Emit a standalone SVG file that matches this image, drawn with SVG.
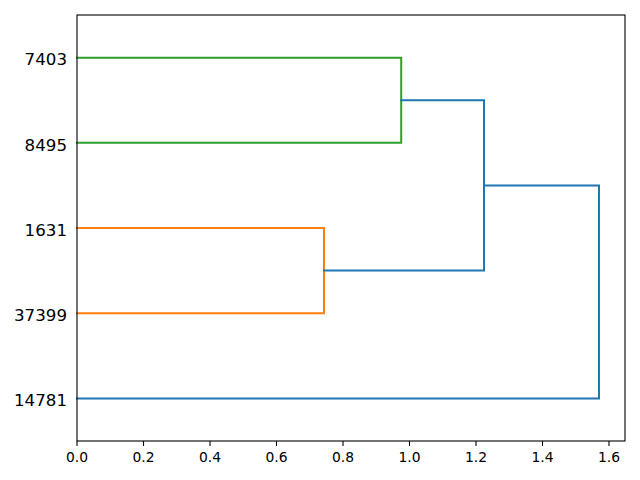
<svg xmlns="http://www.w3.org/2000/svg" width="640" height="480" viewBox="0 0 640 480">
<style>
.lnk{fill:none;stroke-width:2;stroke-linecap:square;stroke-linejoin:miter}
.b{stroke:#1f77b4}.o{stroke:#ff7f0e}.g{stroke:#2ca02c}
.spine{fill:none;stroke:#000;stroke-width:1.1}
.tick{stroke:#000;stroke-width:1.1}
.yl{font-family:'DejaVu Sans',sans-serif;font-size:16.67px;text-anchor:end;fill:#000}
.xl{font-family:'DejaVu Sans',sans-serif;font-size:13.89px;text-anchor:middle;fill:#000}
</style>
<rect width="640" height="480" fill="#fff"/>
<g id="connectors">
<path class="lnk g" d="M77,57.7 H401.2 V142.8 H77"/>
<path class="lnk o" d="M77,228 H324 V313.2 H77"/>
<path class="lnk b" d="M401.2,100.3 H484 V270.6 H324"/>
<path class="lnk b" d="M484,185.4 H599 V398.4 H77"/>
</g>
<g id="leaf-7403"><text class="yl" x="67" y="65.4">7403</text></g>
<g id="leaf-8495"><text class="yl" x="67" y="150.5">8495</text></g>
<g id="leaf-1631"><text class="yl" x="67" y="235.7">1631</text></g>
<g id="leaf-37399"><text class="yl" x="67" y="320.9">37399</text></g>
<g id="leaf-14781"><text class="yl" x="67" y="406.3">14781</text></g>
<g id="axes">
<rect class="spine" x="77" y="15" width="548" height="426"/>
<g class="tick">
<line x1="77" y1="441" x2="77" y2="446"/>
<line x1="143.5" y1="441" x2="143.5" y2="446"/>
<line x1="210" y1="441" x2="210" y2="446"/>
<line x1="276.5" y1="441" x2="276.5" y2="446"/>
<line x1="343" y1="441" x2="343" y2="446"/>
<line x1="409.5" y1="441" x2="409.5" y2="446"/>
<line x1="476" y1="441" x2="476" y2="446"/>
<line x1="542.5" y1="441" x2="542.5" y2="446"/>
<line x1="609" y1="441" x2="609" y2="446"/>
</g>
<text class="xl" x="77" y="462">0.0</text>
<text class="xl" x="143.5" y="462">0.2</text>
<text class="xl" x="210" y="462">0.4</text>
<text class="xl" x="276.5" y="462">0.6</text>
<text class="xl" x="343" y="462">0.8</text>
<text class="xl" x="409.5" y="462">1.0</text>
<text class="xl" x="476" y="462">1.2</text>
<text class="xl" x="542.5" y="462">1.4</text>
<text class="xl" x="609" y="462">1.6</text>
</g>
</svg>
